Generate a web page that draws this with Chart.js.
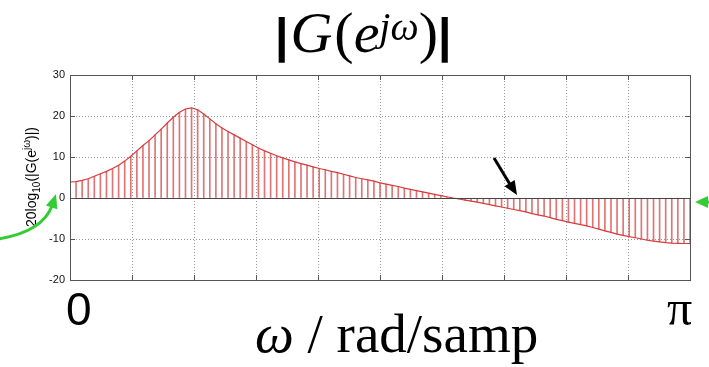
<!DOCTYPE html>
<html>
<head>
<meta charset="utf-8">
<script src="https://cdn.jsdelivr.net/npm/chart.js@4"></script>
<style>
  html, body { margin: 0; padding: 0; background: #fff; }
  #wrap { width: 709px; height: 367px; }
</style>
</head>
<body>
<div id="wrap"><canvas id="myChart" width="709" height="367"></canvas></div>
<script>
// magnitude in dB, one value per stem (0 .. pi)
const magDb = [
  3.9, 4.0, 4.3, 4.7, 5.3, 5.9, 6.5, 7.2, 8.0, 9.0,
  10.2, 11.5, 12.8, 14.0, 15.4, 16.8, 18.3, 19.7, 20.9, 21.7,
  22.0, 21.5, 20.5, 19.3, 18.1, 17.1, 16.2, 15.4, 14.6, 13.8,
  13.0, 12.2, 11.5, 10.9, 10.3, 9.8, 9.3, 8.8, 8.4, 8.0,
  7.6, 7.2, 6.9, 6.5, 6.2, 5.8, 5.4, 5.0, 4.7, 4.4,
  4.1, 3.7, 3.4, 3.1, 2.8, 2.4, 2.1, 1.8, 1.5, 1.2,
  0.9, 0.6, 0.3, 0.0, -0.25, -0.5, -0.75, -1.0, -1.3, -1.6,
  -1.9, -2.2, -2.5, -2.8, -3.1, -3.4, -3.8, -4.1, -4.4, -4.8,
  -5.2, -5.5, -5.9, -6.2, -6.5, -6.8, -7.2, -7.6, -8.0, -8.4,
  -8.8, -9.1, -9.4, -9.7, -10.0, -10.3, -10.5, -10.7, -10.9, -11.0,
  -11.05, -11.1, -11.1
];
// sample frequencies, evenly spaced from 0 to pi
const omega = magDb.map((_, k) => k * Math.PI / (magDb.length - 1));
const yTicks = [-20, -10, 0, 10, 20, 30];
const xGridFrac = [0, 0.1, 0.2, 0.3, 0.4, 0.5, 0.6, 0.7, 0.8, 0.9, 1];
const xEndLabels = ['0', 'π'];

const points = omega.map((w, i) => ({ x: w, y: magDb[i] }));
const stemRed = 'rgba(212, 62, 62, 0.72)';

function arrowHead(c, tx, ty, ang, len, half) {
  const bx = tx - len * Math.cos(ang), by = ty - len * Math.sin(ang);
  const nx = -Math.sin(ang), ny = Math.cos(ang);
  c.beginPath();
  c.moveTo(tx, ty);
  c.lineTo(bx + nx * half, by + ny * half);
  c.lineTo(bx - nx * half, by - ny * half);
  c.closePath();
  c.fill();
}

function drawParts(c, parts, x, y) {
  parts.forEach(p => {
    c.font = p.font;
    c.fillText(p.t, x, y + (p.dy || 0));
    x += c.measureText(p.t).width + (p.kern || 0);
  });
  return x;
}

const decor = {
  id: 'decor',
  afterDraw(chart) {
    const c = chart.ctx, a = chart.chartArea;
    const xs = chart.scales.x, ys = chart.scales.y;
    c.save();
    // baseline at 0
    c.strokeStyle = '#444';
    c.lineWidth = 1;
    const y0 = Math.round(ys.getPixelForValue(0)) + 0.5;
    c.beginPath(); c.moveTo(a.left, y0); c.lineTo(a.right, y0); c.stroke();
    // frame
    c.strokeStyle = '#555';
    c.strokeRect(Math.round(a.left) + 0.5, Math.round(a.top) + 0.5,
      Math.round(a.right - a.left), Math.round(a.bottom - a.top));
    // inward ticks
    c.beginPath();
    xGridFrac.forEach(f => {
      const px = Math.round(xs.getPixelForValue(f * Math.PI)) + 0.5;
      c.moveTo(px, a.top); c.lineTo(px, a.top + 5);
      c.moveTo(px, a.bottom); c.lineTo(px, a.bottom - 5);
    });
    yTicks.forEach(v => {
      const py = Math.round(ys.getPixelForValue(v)) + 0.5;
      c.moveTo(a.left, py); c.lineTo(a.left + 5, py);
      c.moveTo(a.right, py); c.lineTo(a.right - 5, py);
    });
    c.stroke();

    c.fillStyle = '#000';
    c.textBaseline = 'alphabetic';
    c.textAlign = 'left';
    // title |G(e^{jw})|
    drawParts(c, [
      { t: '|', font: 'bold 48px "Liberation Sans"', kern: 2 },
      { t: 'G', font: 'italic 58px "Liberation Serif"', kern: 2 },
      { t: '(', font: '58px "Liberation Serif"' },
      { t: 'e', font: 'italic 58px "Liberation Serif"' },
      { t: 'jω', font: 'italic 40px "Liberation Serif"', dy: -12 },
      { t: ')', font: '58px "Liberation Serif"' },
      { t: '|', font: 'bold 48px "Liberation Sans"' }
    ], 275, 52);

    // y axis title 20log10(|G(e^jw)|)
    c.save();
    c.translate(36, 227);
    c.rotate(-Math.PI / 2);
    drawParts(c, [
      { t: '20log', font: '14px "Liberation Sans"' },
      { t: '10', font: '10px "Liberation Sans"', dy: 4 },
      { t: '(|G(e', font: '14px "Liberation Sans"' },
      { t: 'jω', font: '10px "Liberation Sans"', dy: -6 },
      { t: ')|)', font: '14px "Liberation Sans"' }
    ], 0, 0);
    c.restore();

    // end labels and x title
    c.font = '46px "Liberation Sans"';
    c.fillText(xEndLabels[0], 66, 325);
    c.font = '50px "Liberation Serif"';
    c.fillText(xEndLabels[1], 667, 325);
    drawParts(c, [
      { t: 'ω', font: 'italic 55px "Liberation Serif"' },
      { t: ' / rad/samp', font: '55px "Liberation Serif"' }
    ], 255, 352);

    // green arrows
    c.strokeStyle = '#3c3'; c.fillStyle = '#3c3'; c.lineWidth = 3;
    c.beginPath(); c.moveTo(-2, 239); c.quadraticCurveTo(42, 232, 52, 206); c.stroke();
    arrowHead(c, 56, 194, -1.25, 14, 6);
    c.beginPath(); c.moveTo(712, 202); c.lineTo(704, 202); c.stroke();
    arrowHead(c, 695, 202, Math.PI, 13, 6);
    // black arrow
    c.strokeStyle = '#000'; c.fillStyle = '#000';
    c.beginPath(); c.moveTo(494, 158); c.lineTo(511, 186); c.stroke();
    arrowHead(c, 517, 195, Math.atan2(37, 23), 14, 6);
    c.restore();
  }
};

new Chart(document.getElementById('myChart'), {
  type: 'bar',
  data: {
    datasets: [
      {
        type: 'line',
        data: points,
        borderColor: 'rgb(214, 60, 60)',
        borderWidth: 1.2,
        pointRadius: 0,
        tension: 0,
        order: 0
      },
      {
        type: 'bar',
        data: points,
        backgroundColor: stemRed,
        barThickness: 1,
        order: 1
      }
    ]
  },
  options: {
    responsive: false,
    animation: false,
    devicePixelRatio: 1,
    layout: { padding: { top: 75, right: 19, left: 0, bottom: 0 } },
    plugins: {
      legend: { display: false },
      tooltip: { enabled: false }
    },
    scales: {
      x: {
        type: 'linear',
        min: 0,
        max: Math.PI,
        offset: false,
        afterBuildTicks: s => { s.ticks = xGridFrac.map(f => ({ value: f * Math.PI })); },
        ticks: { display: false },
        grid: { color: '#999', drawTicks: false, offset: false },
        border: { display: false, dash: [1, 2] },
        afterFit: s => { s.height = 87; }
      },
      y: {
        min: -20,
        max: 30,
        afterBuildTicks: s => { s.ticks = yTicks.map(v => ({ value: v })); },
        ticks: { font: { family: 'Liberation Sans', size: 11 }, color: '#111', padding: 5 },
        grid: { color: '#999', drawTicks: false },
        border: { display: false, dash: [1, 2] },
        afterFit: s => { s.width = 70; }
      }
    }
  },
  plugins: [decor]
});
</script>
</body>
</html>
